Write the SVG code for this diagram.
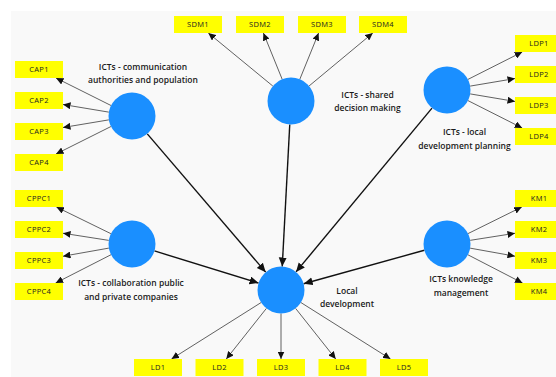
<svg xmlns="http://www.w3.org/2000/svg" width="556" height="377" viewBox="0 0 556 377">
<defs>
<style>
.bg{fill:#f9f9f9}
.box{fill:#ffff00}
.bt{font-family:"Open Sans","Liberation Sans",sans-serif;font-size:7.5px;letter-spacing:0.3px;fill:#222;text-anchor:middle}
.lv{fill:#1a8fff}
.lt{font-family:"Open Sans","Liberation Sans",sans-serif;font-size:8.5px;font-weight:600;fill:#1a1a1a;text-anchor:middle}
.thin{stroke:#3a3a3a;stroke-width:0.8;fill:none;marker-end:url(#ah)}
.thick{stroke:#111;stroke-width:1.4;fill:none;marker-end:url(#ahb)}
</style>
<marker id="ah" markerUnits="userSpaceOnUse" markerWidth="8" markerHeight="7" refX="7.5" refY="3.5" orient="auto">
<path d="M0,0 L7.5,3.5 L0,7 Z" fill="#111"/>
</marker>
<marker id="ahb" markerUnits="userSpaceOnUse" markerWidth="10" markerHeight="9" refX="9" refY="4" orient="auto">
<path d="M0,0 L9,4 L0,8 Z" fill="#111"/>
</marker>
</defs>
<rect class="bg" x="11" y="11" width="545" height="366"/>
<g id="connectors">
<line class="thin" x1="110.98" y1="105.49" x2="56" y2="78"/>
<line class="thin" x1="108.82" y1="112.14" x2="63" y2="104.5"/>
<line class="thin" x1="108.82" y1="119.86" x2="63" y2="127.5"/>
<line class="thin" x1="110.98" y1="126.51" x2="56" y2="154"/>
<line class="thin" x1="110.89" y1="233.67" x2="56.4" y2="207"/>
<line class="thin" x1="108.78" y1="240.38" x2="63" y2="233.24"/>
<line class="thin" x1="108.86" y1="248.1" x2="63" y2="256.24"/>
<line class="thin" x1="111.07" y1="254.69" x2="55.64" y2="283"/>
<line class="thin" x1="467.97" y1="79.4" x2="522.2" y2="52"/>
<line class="thin" x1="470.17" y1="86.1" x2="515" y2="78.55"/>
<line class="thin" x1="470.17" y1="93.9" x2="515" y2="101.45"/>
<line class="thin" x1="467.97" y1="100.6" x2="522.2" y2="128"/>
<line class="thin" x1="468.06" y1="233.58" x2="521.8" y2="207"/>
<line class="thin" x1="470.21" y1="240.34" x2="515" y2="233.28"/>
<line class="thin" x1="470.13" y1="248.15" x2="515" y2="256.2"/>
<line class="thin" x1="467.88" y1="254.78" x2="522.5" y2="283"/>
<line class="thin" x1="272.85" y1="86.07" x2="208.3" y2="33"/>
<line class="thin" x1="282.17" y1="79.22" x2="263.4" y2="33"/>
<line class="thin" x1="299.83" y1="79.22" x2="318.6" y2="33"/>
<line class="thin" x1="309.07" y1="85.97" x2="372.8" y2="33"/>
<line class="thin" x1="261.12" y1="302.53" x2="171.5" y2="359"/>
<line class="thin" x1="266.39" y1="308.41" x2="226.25" y2="359"/>
<line class="thin" x1="281" y1="313.5" x2="281" y2="359"/>
<line class="thin" x1="295.61" y1="308.41" x2="335.75" y2="359"/>
<line class="thin" x1="300.88" y1="302.53" x2="390.5" y2="359"/>
<line class="thick" x1="147.29" y1="133.85" x2="265.71" y2="272.15"/>
<line class="thick" x1="289.76" y1="124.47" x2="282.24" y2="266.53"/>
<line class="thick" x1="431.99" y1="108.08" x2="296.01" y2="271.92"/>
<line class="thick" x1="154.45" y1="250.93" x2="258.55" y2="283.07"/>
<line class="thick" x1="424.35" y1="250.27" x2="303.65" y2="283.73"/>
</g>
<g id="CAP">
<circle class="lv" cx="132" cy="116" r="23.5"/>
<text class="lt" x="143" y="69.7">ICTs - communication</text>
<text class="lt" x="143" y="82.5">authorities and population</text>
</g>
<g id="CAP1"><rect class="box" x="15" y="61" width="48" height="17"/><text class="bt" x="39" y="72.3">CAP1</text></g>
<g id="CAP2"><rect class="box" x="15" y="92" width="48" height="17"/><text class="bt" x="39" y="103.3">CAP2</text></g>
<g id="CAP3"><rect class="box" x="15" y="123" width="48" height="17"/><text class="bt" x="39" y="134.3">CAP3</text></g>
<g id="CAP4"><rect class="box" x="15" y="154" width="48" height="17"/><text class="bt" x="39" y="165.3">CAP4</text></g>
<g id="SDM">
<circle class="lv" cx="291" cy="101" r="23.5"/>
<text class="lt" x="367.5" y="97.5">ICTs - shared</text>
<text class="lt" x="367.5" y="110.5">decision making</text>
</g>
<g id="SDM1"><rect class="box" x="174" y="16" width="48" height="17"/><text class="bt" x="198" y="27.3">SDM1</text></g>
<g id="SDM2"><rect class="box" x="236" y="16" width="48" height="17"/><text class="bt" x="260" y="27.3">SDM2</text></g>
<g id="SDM3"><rect class="box" x="298" y="16" width="48" height="17"/><text class="bt" x="322" y="27.3">SDM3</text></g>
<g id="SDM4"><rect class="box" x="359" y="16" width="48" height="17"/><text class="bt" x="383" y="27.3">SDM4</text></g>
<g id="LDP">
<circle class="lv" cx="447" cy="90" r="23.5"/>
<text class="lt" x="464.5" y="134.8">ICTs - local</text>
<text class="lt" x="464.5" y="149">development planning</text>
</g>
<g id="LDP1"><rect class="box" x="515" y="35" width="48" height="17"/><text class="bt" x="539" y="46.3">LDP1</text></g>
<g id="LDP2"><rect class="box" x="515" y="66" width="48" height="17"/><text class="bt" x="539" y="77.3">LDP2</text></g>
<g id="LDP3"><rect class="box" x="515" y="97" width="48" height="17"/><text class="bt" x="539" y="108.3">LDP3</text></g>
<g id="LDP4"><rect class="box" x="515" y="128" width="48" height="17"/><text class="bt" x="539" y="139.3">LDP4</text></g>
<g id="CPPC">
<circle class="lv" cx="132" cy="244" r="23.5"/>
<text class="lt" x="131" y="285.8">ICTs - collaboration public</text>
<text class="lt" x="131" y="299.8">and private companies</text>
</g>
<g id="CPPC1"><rect class="box" x="15" y="190" width="48" height="17"/><text class="bt" x="39" y="201.3">CPPC1</text></g>
<g id="CPPC2"><rect class="box" x="15" y="221" width="48" height="17"/><text class="bt" x="39" y="232.3">CPPC2</text></g>
<g id="CPPC3"><rect class="box" x="15" y="252" width="48" height="17"/><text class="bt" x="39" y="263.3">CPPC3</text></g>
<g id="CPPC4"><rect class="box" x="15" y="283" width="48" height="17"/><text class="bt" x="39" y="294.3">CPPC4</text></g>
<g id="KM">
<circle class="lv" cx="447" cy="244" r="23.5"/>
<text class="lt" x="461" y="282.4">ICTs knowledge</text>
<text class="lt" x="461" y="295.8">management</text>
</g>
<g id="KM1"><rect class="box" x="515" y="190" width="48" height="17"/><text class="bt" x="539" y="201.3">KM1</text></g>
<g id="KM2"><rect class="box" x="515" y="221" width="48" height="17"/><text class="bt" x="539" y="232.3">KM2</text></g>
<g id="KM3"><rect class="box" x="515" y="252" width="48" height="17"/><text class="bt" x="539" y="263.3">KM3</text></g>
<g id="KM4"><rect class="box" x="515" y="283" width="48" height="17"/><text class="bt" x="539" y="294.3">KM4</text></g>
<g id="LD">
<circle class="lv" cx="281" cy="290" r="23.5"/>
<text class="lt" x="347" y="294">Local</text>
<text class="lt" x="347" y="307">development</text>
</g>
<g id="LD1"><rect class="box" x="134" y="359" width="48" height="17"/><text class="bt" x="158" y="370.3">LD1</text></g>
<g id="LD2"><rect class="box" x="195.5" y="359" width="48" height="17"/><text class="bt" x="219.5" y="370.3">LD2</text></g>
<g id="LD3"><rect class="box" x="257" y="359" width="48" height="17"/><text class="bt" x="281" y="370.3">LD3</text></g>
<g id="LD4"><rect class="box" x="318.5" y="359" width="48" height="17"/><text class="bt" x="342.5" y="370.3">LD4</text></g>
<g id="LD5"><rect class="box" x="380" y="359" width="48" height="17"/><text class="bt" x="404" y="370.3">LD5</text></g>
</svg>
